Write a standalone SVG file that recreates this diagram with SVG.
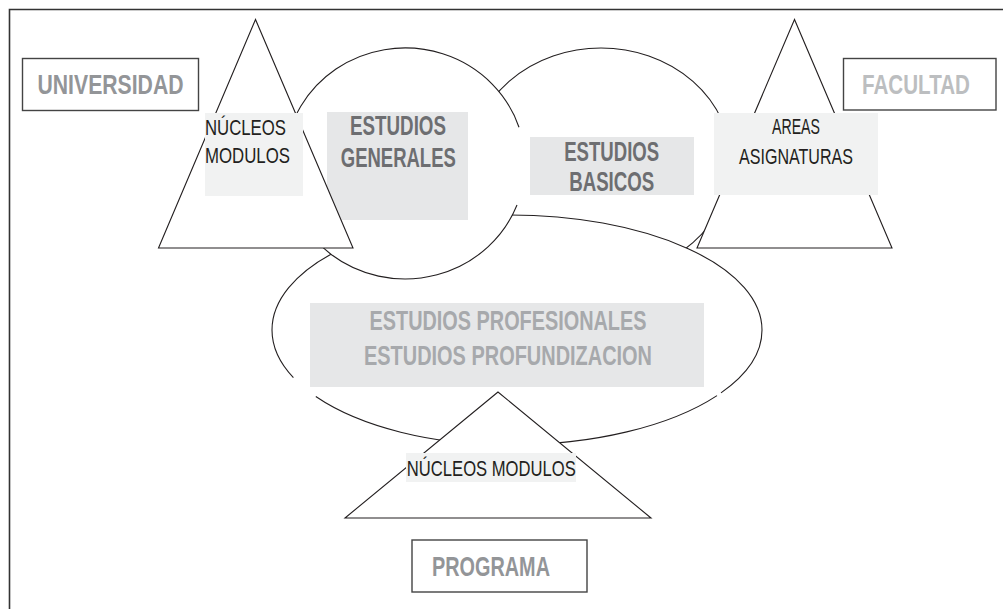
<svg xmlns="http://www.w3.org/2000/svg" width="1003" height="609" viewBox="0 0 1003 609">
<style>
.sh{fill:#fff;stroke:#231f20;stroke-width:1.1}
.ln{fill:none;stroke:#231f20;stroke-width:1.1}
.nf{fill:#fff;stroke:none}
.lb{fill:#fff;stroke:#444;stroke-width:1.4}
.bx1{fill:#e6e7e8}
.bx2{fill:#f1f2f2}
.t{font-family:"Liberation Sans",Arial,sans-serif;text-anchor:middle}
.g1{font-weight:bold;fill:#6d6e71;font-size:27.5px}
.g2{font-weight:bold;fill:#a7a9ac;font-size:28px}
.g3{font-weight:bold;fill:#939598;font-size:28.5px}
.g4{font-weight:bold;fill:#bcbec0;font-size:28.5px}
.k{fill:#231f20;font-size:22.5px}
</style>
<rect width="1003" height="609" fill="#fff"/>
<path d="M9.5 609V9.5H1003" fill="none" stroke="#333" stroke-width="1.6"/>
<g id="connectors"/>
<g id="estudios-basicos">
<ellipse class="sh" cx="601" cy="162" rx="130" ry="114"/>
<rect class="bx1" x="530" y="137" width="164" height="58"/>
<text class="t g1" x="611.7" y="161" textLength="95" lengthAdjust="spacingAndGlyphs">ESTUDIOS</text>
<text class="t g1" x="611.7" y="191" textLength="85" lengthAdjust="spacingAndGlyphs">BASICOS</text>
</g>
<g id="estudios-profesionales">
<path class="nf" d="M272 330A238 115 0 0 1 510 215A252 115 0 0 1 762 330A252 115 0 0 1 510 445A238 115 0 0 1 272 330Z"/>
<path class="ln" d="M293.4 377.7A238 115 0 0 1 272 330A238 115 0 0 1 510 215A252 115 0 0 1 762 330A252 115 0 0 1 721 392.9M717 395.6A252 115 0 0 1 510 445A238 115 0 0 1 315.8 396.5"/>
<rect class="bx1" x="310" y="303" width="394" height="84"/>
<text class="t g2" x="508" y="329.5" textLength="277" lengthAdjust="spacingAndGlyphs">ESTUDIOS PROFESIONALES</text>
<text class="t g2" x="508" y="364.5" textLength="288" lengthAdjust="spacingAndGlyphs">ESTUDIOS PROFUNDIZACION</text>
</g>
<g id="estudios-generales">
<ellipse class="nf" cx="405" cy="163.5" rx="120" ry="115.5"/>
<path class="ln" d="M517 205A120 115.5 0 1 1 519 127.3"/>
<rect class="bx1" x="327" y="112" width="141" height="108"/>
<text class="t g1" x="398" y="135" textLength="96" lengthAdjust="spacingAndGlyphs">ESTUDIOS</text>
<text class="t g1" x="398.3" y="167" textLength="115" lengthAdjust="spacingAndGlyphs">GENERALES</text>
</g>
<g id="nucleos-universidad">
<polygon class="sh" points="255.5,19.5 158.5,248 353,248"/>
<rect class="bx2" x="205" y="113" width="98" height="83"/>
<text class="k" font-family="Liberation Sans, Arial, sans-serif" x="205" y="135" textLength="81" lengthAdjust="spacingAndGlyphs">NÚCLEOS</text>
<text class="k" font-family="Liberation Sans, Arial, sans-serif" x="205" y="163.3" textLength="85" lengthAdjust="spacingAndGlyphs">MODULOS</text>
</g>
<g id="areas-facultad">
<polygon class="sh" points="794.5,19.5 697,248 892,248"/>
<rect class="bx2" x="714" y="113" width="164" height="82"/>
<text class="t k" x="796" y="133.5" textLength="48" lengthAdjust="spacingAndGlyphs">AREAS</text>
<text class="t k" x="796" y="163.5" textLength="114" lengthAdjust="spacingAndGlyphs">ASIGNATURAS</text>
</g>
<g id="nucleos-programa">
<polygon class="sh" points="498,392 345,518 651,518"/>
<rect class="bx2" x="406" y="453" width="170" height="29"/>
<text class="t k" x="491.3" y="475.5" textLength="169" lengthAdjust="spacingAndGlyphs">NÚCLEOS MODULOS</text>
</g>
<g id="universidad">
<rect class="lb" x="22.5" y="58.5" width="176" height="52"/>
<text class="t g3" x="110.5" y="94" textLength="146" lengthAdjust="spacingAndGlyphs">UNIVERSIDAD</text>
</g>
<g id="facultad">
<rect class="lb" x="843.5" y="58.5" width="152.5" height="51.5"/>
<text class="t g4" transform="translate(916 94) scale(0.7226 1)" x="0" y="0">FACULTAD</text>
</g>
<g id="programa">
<rect class="lb" x="412" y="540" width="175" height="52"/>
<text class="t g3" x="491" y="576" textLength="118" lengthAdjust="spacingAndGlyphs">PROGRAMA</text>
</g>
</svg>
